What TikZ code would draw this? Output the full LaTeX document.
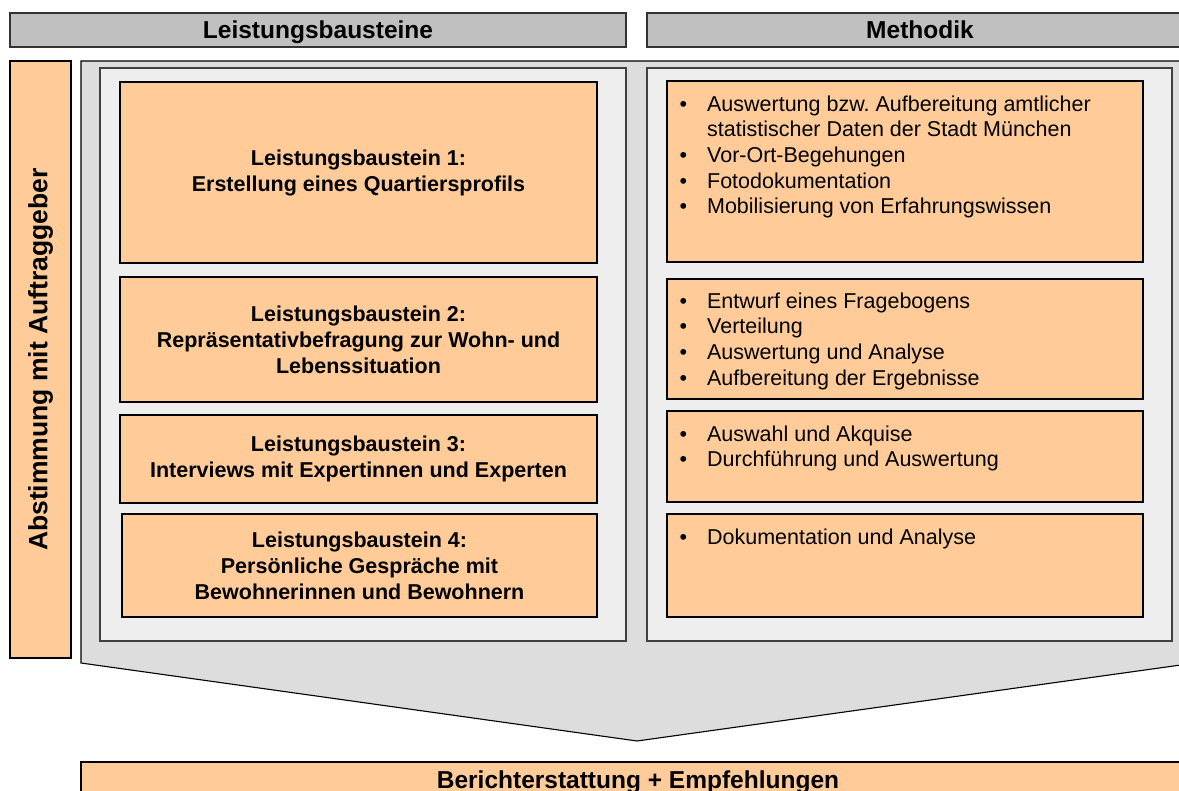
\documentclass[tikz,border=0pt]{standalone}
\usepackage{fontspec}
\setmainfont{Liberation Sans}
\usepackage{tikz}

\definecolor{apricot}{HTML}{FFCC99}
\definecolor{headgrey}{HTML}{C0C0C0}
\definecolor{arrowgrey}{HTML}{DDDDDD}
\definecolor{panelgrey}{HTML}{EEEEEE}

\newcommand{\blt}{\makebox[27.5pt][l]{\textbullet}}
\newcommand{\cnt}{\hspace*{27.5pt}}
\frenchspacing

\begin{document}
\begin{tikzpicture}
	[x=1pt,y=-1pt,
	head/.style={rectangle,draw=black!80,fill=headgrey,line width=1.2pt,minimum height=34pt,inner sep=0pt,text height=16.6pt,text depth=0pt,font=\fontsize{24.5}{28}\selectfont\bfseries},
	box/.style={rectangle,draw=black,fill=apricot,line width=1.1pt,inner sep=0pt,align=center,font=\fontsize{21.5}{26}\selectfont\bfseries},
	panel/.style={rectangle,draw=black!75,fill=panelgrey,line width=1.2pt,inner sep=0pt},
	items/.style={anchor=north west,inner sep=0pt,align=left,font=\fontsize{21.5}{25.6}\selectfont}]
	\clip (0,0) rectangle (1179,791);
	% headers
	\node[head,minimum width=616pt] (hl) at (318,30) {Leistungsbausteine};
	\node[head,minimum width=546pt] (hr) at (920,30) {Methodik};
	% big arrow
	\draw[fill=arrowgrey,line width=1.1pt] (81,61) -- (1195,61) -- (1195,663) -- (637,741) -- (81,663) -- cycle;
	\node[box,minimum width=597pt,minimum height=61pt,rotate=90,font=\fontsize{26.5}{28}\selectfont\bfseries] (abst) at (40.5,359.5) {Abstimmung mit Auftraggeber};
	\node[panel,minimum width=526pt,minimum height=573pt] (lp) at (363,354.5) {};
	\node[panel,minimum width=525pt,minimum height=573pt] (rp) at (909.5,354.5) {};
	% Leistungsbausteine
	\node[box,minimum width=477pt,minimum height=181pt] (lb1) at (358.5,172.5) {Leistungsbaustein 1:\\Erstellung eines Quartiersprofils};
	\node[box,minimum width=477pt,minimum height=125pt] (lb2) at (358.5,339.5) {Leistungsbaustein 2:\\Repräsentativbefragung zur Wohn- und\\Lebenssituation};
	\node[box,minimum width=477pt,minimum height=88pt] (lb3) at (358.5,459) {Leistungsbaustein 3:\\Interviews mit Expertinnen und Experten};
	\node[box,minimum width=475pt,minimum height=103pt] (lb4) at (359.5,565.5) {Leistungsbaustein 4:\\Persönliche Gespräche mit\\Bewohnerinnen und Bewohnern};
	% Methodik
	\node[box,minimum width=476pt,minimum height=181pt] (rb1) at (905,171.5) {};
	\node[box,minimum width=476pt,minimum height=120pt] (rb2) at (905,339) {};
	\node[box,minimum width=476pt,minimum height=91pt] (rb3) at (905,456.5) {};
	\node[box,minimum width=476pt,minimum height=103pt] (rb4) at (905,565.5) {};
	\node[items] (rt1) at ([xshift=13pt,yshift=-15pt]rb1.north west) {\blt Auswertung bzw. Aufbereitung amtlicher\\\cnt statistischer Daten der Stadt München\\\blt Vor-Ort-Begehungen\\\blt Fotodokumentation\\\blt Mobilisierung von Erfahrungswissen};
	\node[items] (rt2) at ([xshift=13pt,yshift=-14pt]rb2.north west) {\blt Entwurf eines Fragebogens\\\blt Verteilung\\\blt Auswertung und Analyse\\\blt Aufbereitung der Ergebnisse};
	\node[items] (rt3) at ([xshift=13pt,yshift=-15pt]rb3.north west) {\blt Auswahl und Akquise\\\blt Durchführung und Auswertung};
	\node[items] (rt4) at ([xshift=13pt,yshift=-15pt]rb4.north west) {\blt Dokumentation und Analyse};
	% result
	\node[box,minimum width=1114pt,minimum height=34pt,text height=18pt,text depth=0pt,font=\fontsize{24.5}{28}\selectfont\bfseries] (bericht) at (638,779) {Berichterstattung + Empfehlungen};
\end{tikzpicture}
\end{document}
